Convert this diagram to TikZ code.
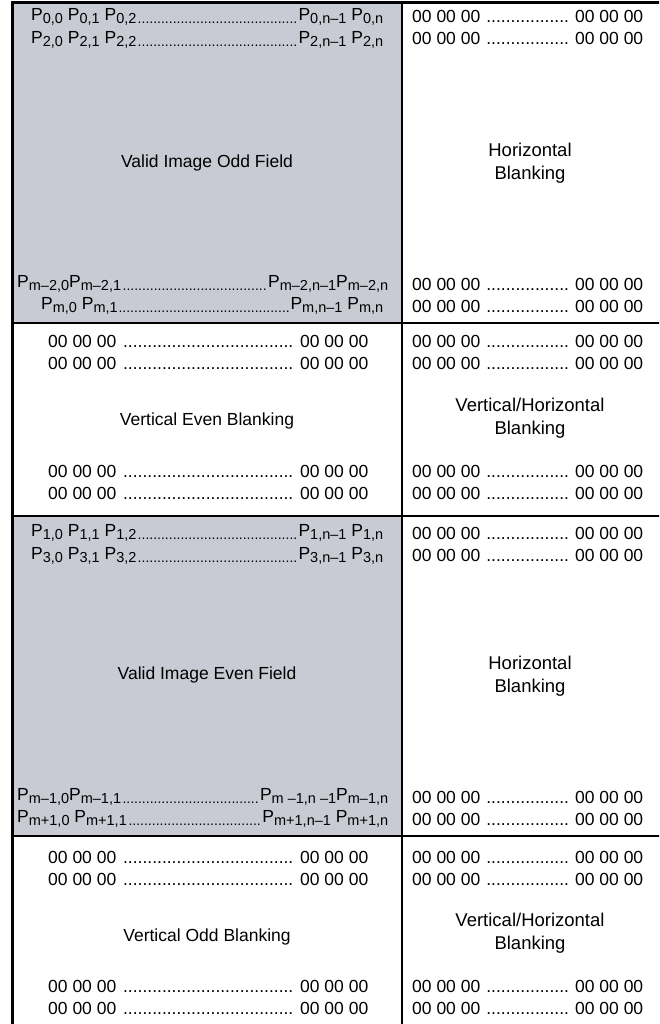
\documentclass[tikz,border=0pt]{standalone}
\usepackage{fontspec}
\setmainfont{Liberation Sans}
\definecolor{fieldgray}{RGB}{201,203,212}
\newcommand\sbs[1]{\raisebox{-3.5pt}{\fontsize{14.5}{16}\selectfont #1}}
\newcommand\sdots{\cleaders\hbox{\raisebox{-3.5pt}{\fontsize{14}{16}\selectfont .}}\hfill}
\newcommand\bdots{\cleaders\hbox{.}\hfill}
\newcommand\zrow[1]{\hbox to #1{00 00 00 \bdots\ 00 00 00}}
\newcommand\prow[3]{\hbox to #1{#2\sdots #3}}
\tikzset{
  txt/.style={inner sep=0pt, font=\fontsize{17.5}{22}\selectfont, text=black},
  rowl/.style={txt, anchor=west},
  lbl/.style={txt, align=center},
  rlbl/.style={lbl, font=\fontsize{18.5}{22.5}\selectfont},
  frame/.style={line width=3pt},
  divider/.style={line width=2pt}
}
\begin{document}
\begin{tikzpicture}[x=1pt,y=-1pt]
\useasboundingbox (0,0) rectangle (659,1024);
\fill[white] (0,0) rectangle (659,1024);
\begin{scope}
\clip (0,0) rectangle (659,1024);
\fill[fieldgray] (12,3) rectangle (402,323);
\fill[fieldgray] (12,516) rectangle (402,836);
\draw[divider] (12,323) -- (670,323);
\draw[divider] (12,516) -- (670,516);
\draw[divider] (12,836) -- (670,836);
\draw[divider] (402,3) -- (402,1040);
\draw[frame] (670,3) -- (12,3) -- (12,1040);
\end{scope}

% ---- Valid image odd field
\node[rowl] (p0) at (31,17) {\prow{352pt}{P\sbs{0,0} P\sbs{0,1} P\sbs{0,2}}{P\sbs{0,n–1} P\sbs{0,n}}};
\node[rowl] (p2) at (31,40) {\prow{352pt}{P\sbs{2,0} P\sbs{2,1} P\sbs{2,2}}{P\sbs{2,n–1} P\sbs{2,n}}};
\node[lbl] (odd) at (207,163) {Valid Image Odd Field};
\node[rowl] (pm2) at (17,284) {\prow{371pt}{P\sbs{m–2,0}P\sbs{m–2,1}}{P\sbs{m–2,n–1}P\sbs{m–2,n}}};
\node[rowl] (pm) at (41,306) {\prow{342pt}{P\sbs{m,0} P\sbs{m,1}}{P\sbs{m,n–1} P\sbs{m,n}}};

% ---- Horizontal blanking (top)
\node[rowl] (h1a) at (412,16) {\zrow{231pt}};
\node[rowl] (h1b) at (412,38) {\zrow{231pt}};
\node[rlbl] (hb1) at (530,163) {Horizontal\\Blanking};
\node[rowl] (h1c) at (412,284) {\zrow{231pt}};
\node[rowl] (h1d) at (412,306) {\zrow{231pt}};

% ---- Vertical even blanking
\node[rowl] (v1a) at (48,341) {\zrow{320pt}};
\node[rowl] (v1b) at (48,363) {\zrow{320pt}};
\node[lbl] (veb) at (207,421) {Vertical Even Blanking};
\node[rowl] (v1c) at (48,471) {\zrow{320pt}};
\node[rowl] (v1d) at (48,493) {\zrow{320pt}};
\node[rowl] (vh1a) at (412,341) {\zrow{231pt}};
\node[rowl] (vh1b) at (412,363) {\zrow{231pt}};
\node[rlbl] (vhb1) at (530,418) {Vertical/Horizontal\\Blanking};
\node[rowl] (vh1c) at (412,471) {\zrow{231pt}};
\node[rowl] (vh1d) at (412,493) {\zrow{231pt}};

% ---- Valid image even field
\node[rowl] (p1) at (31,533) {\prow{352pt}{P\sbs{1,0} P\sbs{1,1} P\sbs{1,2}}{P\sbs{1,n–1} P\sbs{1,n}}};
\node[rowl] (p3) at (31,556) {\prow{352pt}{P\sbs{3,0} P\sbs{3,1} P\sbs{3,2}}{P\sbs{3,n–1} P\sbs{3,n}}};
\node[lbl] (even) at (207,675) {Valid Image Even Field};
\node[rowl] (pm1) at (17,797) {\prow{371pt}{P\sbs{m–1,0}P\sbs{m–1,1}}{P\sbs{m –1,n –1}P\sbs{m–1,n}}};
\node[rowl] (pmp1) at (17,819) {\prow{371pt}{P\sbs{m+1,0} P\sbs{m+1,1}}{P\sbs{m+1,n–1} P\sbs{m+1,n}}};

% ---- Horizontal blanking (lower)
\node[rowl] (h2a) at (412,533) {\zrow{231pt}};
\node[rowl] (h2b) at (412,555) {\zrow{231pt}};
\node[rlbl] (hb2) at (530,676) {Horizontal\\Blanking};
\node[rowl] (h2c) at (412,797) {\zrow{231pt}};
\node[rowl] (h2d) at (412,819) {\zrow{231pt}};

% ---- Vertical odd blanking
\node[rowl] (v2a) at (48,857) {\zrow{320pt}};
\node[rowl] (v2b) at (48,879) {\zrow{320pt}};
\node[lbl] (vob) at (207,937) {Vertical Odd Blanking};
\node[rowl] (v2c) at (48,986) {\zrow{320pt}};
\node[rowl] (v2d) at (48,1008) {\zrow{320pt}};
\node[rowl] (vh2a) at (412,857) {\zrow{231pt}};
\node[rowl] (vh2b) at (412,879) {\zrow{231pt}};
\node[rlbl] (vhb2) at (530,933) {Vertical/Horizontal\\Blanking};
\node[rowl] (vh2c) at (412,986) {\zrow{231pt}};
\node[rowl] (vh2d) at (412,1008) {\zrow{231pt}};
\end{tikzpicture}
\end{document}
